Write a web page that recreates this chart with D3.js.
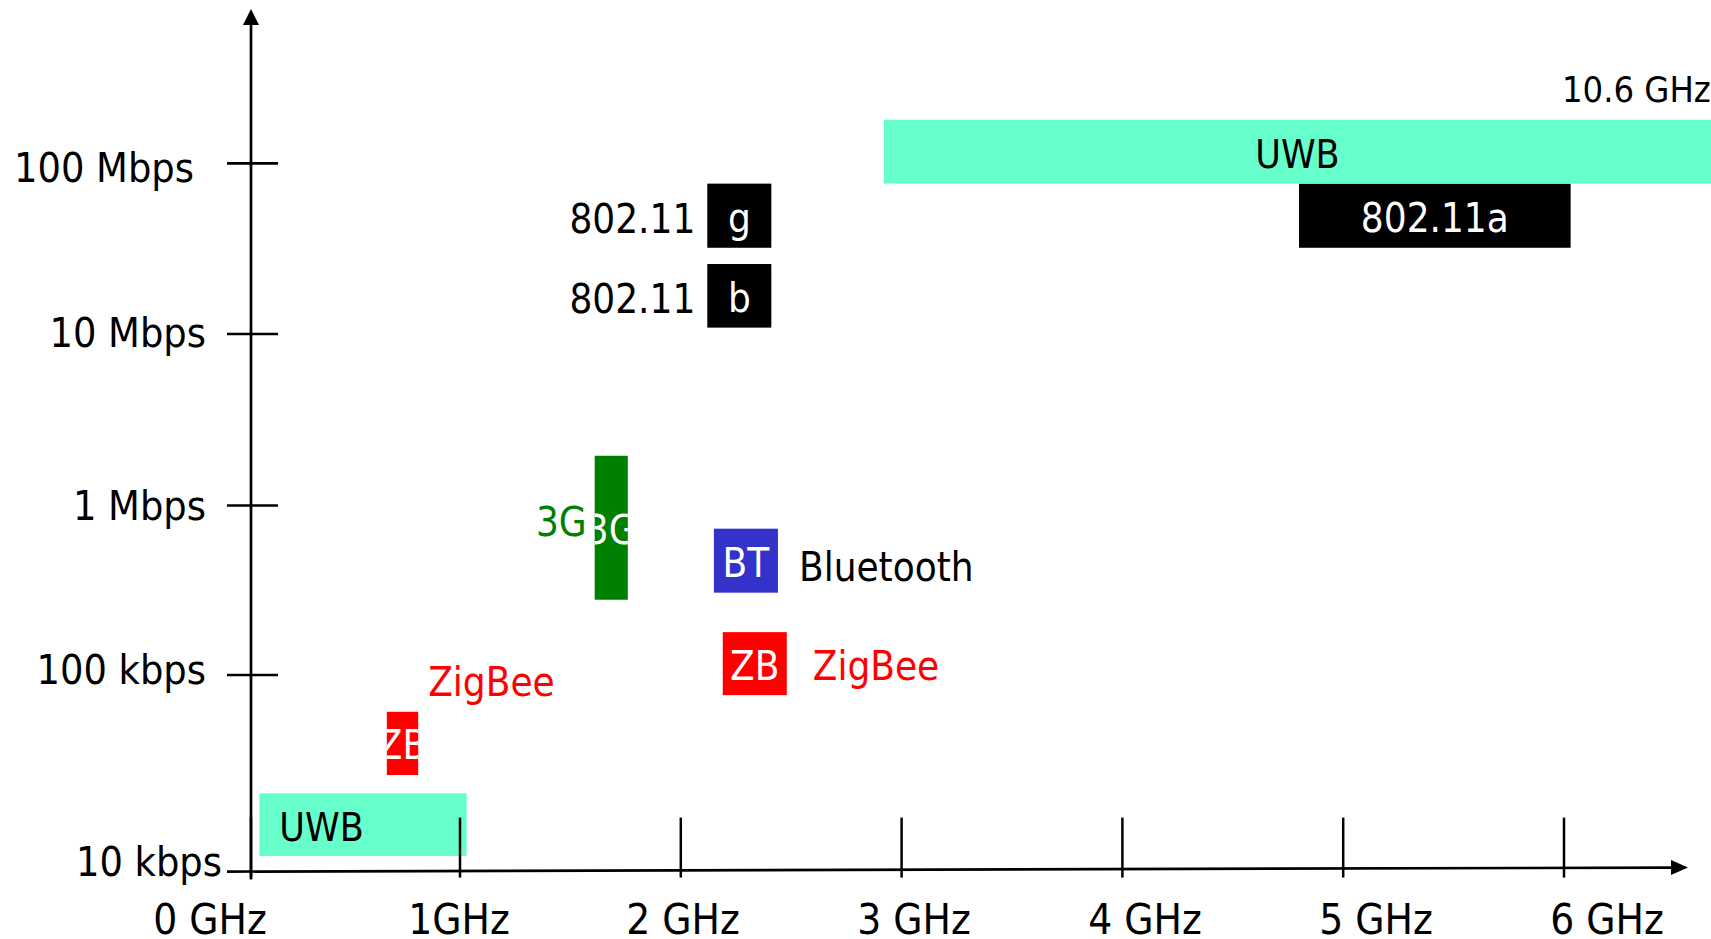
<!DOCTYPE html>
<html>
<head>
<meta charset="utf-8">
<script src="https://cdn.jsdelivr.net/npm/d3@7"></script>
<style>
	body { margin: 0; background: #fff; }
	svg { display: block; font-family: "DejaVu Sans Condensed", "DejaVu Sans", sans-serif; font-stretch: condensed; }
</style>
</head>
<body>
<script>
(function(){

	//data: one entry per technology box
	var techNames  = ["UWB low", "ZigBee 868", "3G", "802.11b", "802.11g", "Bluetooth", "ZigBee 2.4", "802.11a", "UWB high"];
	var techKinds  = ["uwb", "zigbee", "3g", "wifi", "wifi", "bt", "zigbee", "wifi", "uwb"];
	var boxLabels  = ["UWB", "ZB", "3G", "b", "g", "BT", "ZB", "802.11a", "UWB"];
	var sideLabels = ["", "ZigBee", "3G", "802.11", "802.11", "Bluetooth", "ZigBee", "", ""];
	var freqFrom = [0.04, 0.65, 1.61, 2.12, 2.12, 2.15, 2.19, 4.80, 2.92];   //GHz
	var freqTo   = [1.03, 0.80, 1.76, 2.41, 2.41, 2.44, 2.48, 6.03, 10.6];
	var rateFrom = [12e3, 31e3, 278e3, 10.9e6, 32e6, 306e3, 79e3, 32e6, 76e6];   //bps
	var rateTo   = [25e3, 65e3, 1.95e6, 25.7e6, 76e6, 730e3, 179e3, 76e6, 180e6];

	//axis ticks
	var freqTicks = [0, 1, 2, 3, 4, 5, 6];
	var freqTickLabels = ["0 GHz", "1GHz", "2 GHz", "3 GHz", "4 GHz", "5 GHz", "6 GHz"];
	var rateTicks = [1e4, 1e5, 1e6, 1e7, 1e8];
	var rateTickLabels = ["10 kbps", "100 kbps", "1 Mbps", "10 Mbps", "100 Mbps"];
	var uwbEndNote = "10.6 GHz";

	var width = 1711,
		height = 939;

	var svg = d3.select("body")
		.append("svg")
		.attr("width", width)
		.attr("height", height);

	//the slide axes are hand drawn, so scales are piecewise
	var x = d3.scaleLinear().domain([0, 1, 6]).range([251, 460, 1564]);
	var xLabel = d3.scaleLinear().domain([0, 1, 2, 6]).range([210, 459, 683, 1607]);
	var y = d3.scaleLog().domain(rateTicks).range([871.6, 675, 505.5, 334, 163.3]);
	var yLabel = d3.scaleLog().domain(rateTicks).range([876, 683.6, 519.6, 346.7, 181.7]);

	var fillOf = {uwb: "#66ffcc", zigbee: "#ff0000", "3g": "#008000", wifi: "#000000", bt: "#3333cc"};
	var sideColor = {uwb: "#000", zigbee: "#ff0000", "3g": "#008000", wifi: "#000", bt: "#000"};

	//build rows for the boxes
	var boxes = techNames.map(function(name, i){
		var x0 = x(freqFrom[i]), x1 = x(freqTo[i]);
		var y0 = y(rateTo[i]), y1 = y(rateFrom[i]);
		return {name: name, kind: techKinds[i], box: boxLabels[i], side: sideLabels[i],
			x0: x0, x1: x1, y0: y0, y1: y1, cy: (y0 + y1) / 2, i: i};
	});

	//clip paths so the text stays inside its box
	var defs = svg.append("defs");
	defs.selectAll("clipPath")
		.data(boxes)
		.enter()
		.append("clipPath")
		.attr("id", function(d){ return "clip" + d.i; })
		.append("rect")
		.attr("x", function(d){ return d.x0; })
		.attr("y", function(d){ return d.y0; })
		.attr("width", function(d){ return d.x1 - d.x0; })
		.attr("height", function(d){ return d.y1 - d.y0; });

	var groups = svg.selectAll(".tech")
		.data(boxes)
		.enter()
		.append("g")
		.attr("class", "tech");

	groups.append("rect")
		.attr("x", function(d){ return d.x0; })
		.attr("y", function(d){ return d.y0; })
		.attr("width", function(d){ return d.x1 - d.x0; })
		.attr("height", function(d){ return d.y1 - d.y0; })
		.style("fill", function(d){ return fillOf[d.kind]; });

	//text inside the box
	groups.append("text")
		.attr("clip-path", function(d){ return "url(#clip" + d.i + ")"; })
		.attr("x", function(d){
			if (d.name == "UWB low") return d.x0 + 20;
			return (d.x0 + Math.min(d.x1, width)) / 2;
		})
		.attr("y", function(d){ return d.cy + 16; })
		.attr("text-anchor", function(d){ return d.name == "UWB low" ? "start" : "middle"; })
		.style("font-size", function(d){ return d.kind == "uwb" ? "39px" : "40px"; })
		.style("fill", function(d){ return d.kind == "uwb" ? "#000" : "#fff"; })
		.text(function(d){ return d.box; });

	//text beside the box
	function sidePos(d){
		if (d.kind == "wifi") return {x: d.x0 - 12, y: d.cy + 17, anchor: "end"};
		if (d.kind == "3g") return {x: d.x0 - 8, y: d.cy + 8, anchor: "end"};
		if (d.kind == "bt") return {x: d.x1 + 21, y: d.cy + 20, anchor: "start"};
		if (d.name == "ZigBee 868") return {x: d.x1 + 10, y: d.y0 - 16, anchor: "start"};
		return {x: d.x1 + 26, y: d.cy + 16, anchor: "start"};
	}

	groups.filter(function(d){ return d.side != ""; })
		.append("text")
		.attr("x", function(d){ return sidePos(d).x; })
		.attr("y", function(d){ return sidePos(d).y; })
		.attr("text-anchor", function(d){ return sidePos(d).anchor; })
		.style("font-size", "40px")
		.style("fill", function(d){ return sideColor[d.kind]; })
		.text(function(d){ return d.side; });

	//note on the top UWB band
	svg.append("text")
		.attr("x", x(6) - 2)
		.attr("y", y(rateTo[8]) - 18)
		.style("font-size", "36px")
		.text(uwbEndNote);

	//axes
	var axisY = y(1e4),
		axisX = x(0);

	var axes = svg.append("g").attr("class", "axis");

	axes.append("line")
		.attr("x1", axisX - 24).attr("y1", axisY)
		.attr("x2", 1672).attr("y2", axisY - 4)
		.style("stroke", "#000").style("stroke-width", 2.7);
	axes.append("path")
		.attr("d", "M1688," + (axisY - 4) + "L1671," + (axisY - 11.5) + "L1671," + (axisY + 3.5) + "Z")
		.style("fill", "#000");

	axes.append("line")
		.attr("x1", axisX).attr("y1", axisY + 8)
		.attr("x2", axisX).attr("y2", 24)
		.style("stroke", "#000").style("stroke-width", 2.7);
	axes.append("path")
		.attr("d", "M" + axisX + ",9L" + (axisX - 8) + ",25L" + (axisX + 8) + ",25Z")
		.style("fill", "#000");

	//frequency ticks
	axes.selectAll(".xtick")
		.data(freqTicks)
		.enter()
		.append("line")
		.attr("class", "xtick")
		.attr("x1", function(d){ return x(d); })
		.attr("x2", function(d){ return x(d); })
		.attr("y1", axisY - 54)
		.attr("y2", axisY + 6)
		.style("stroke", "#000").style("stroke-width", 2.5);

	axes.selectAll(".xlabel")
		.data(freqTicks)
		.enter()
		.append("text")
		.attr("class", "xlabel")
		.attr("x", function(d){ return xLabel(d); })
		.attr("y", 934)
		.attr("text-anchor", "middle")
		.style("font-size", "42px")
		.text(function(d, i){ return freqTickLabels[i]; });

	//rate ticks (10 kbps sits on the frequency axis)
	axes.selectAll(".ytick")
		.data(rateTicks.slice(1))
		.enter()
		.append("line")
		.attr("class", "ytick")
		.attr("x1", axisX - 24)
		.attr("x2", axisX + 27)
		.attr("y1", function(d){ return y(d); })
		.attr("y2", function(d){ return y(d); })
		.style("stroke", "#000").style("stroke-width", 2.7);

	var labelEnd = {0: 222, 4: 194};
	axes.selectAll(".ylabel")
		.data(rateTicks)
		.enter()
		.append("text")
		.attr("class", "ylabel")
		.attr("x", function(d, i){ return labelEnd[i] || 206; })
		.attr("y", function(d){ return yLabel(d); })
		.attr("text-anchor", "end")
		.style("font-size", "41px")
		.text(function(d, i){ return rateTickLabels[i]; });

})();
</script>
</body>
</html>
